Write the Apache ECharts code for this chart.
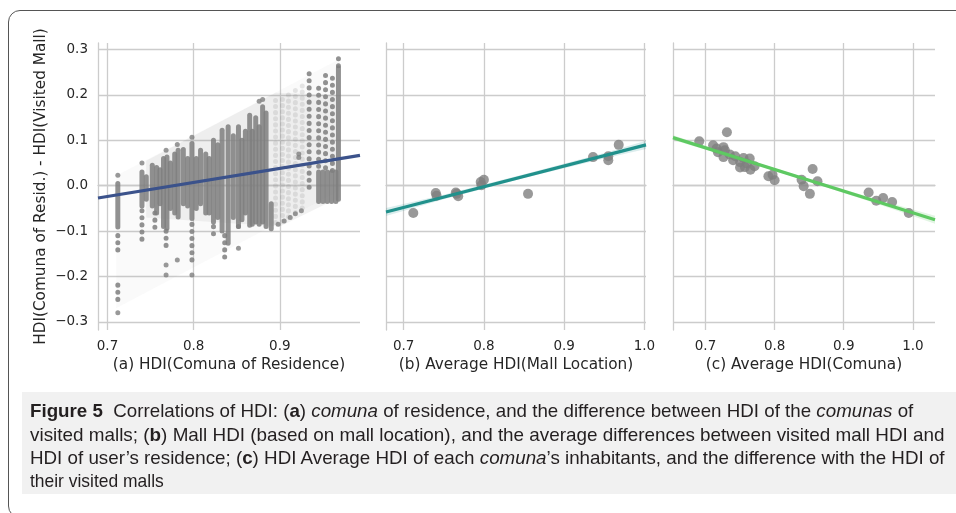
<!DOCTYPE html>
<html>
<head>
<meta charset="utf-8">
<script src="https://cdn.jsdelivr.net/npm/echarts@6.0.0/dist/echarts.min.js"></script>
<style>
  html, body { margin: 0; padding: 0; width: 956px; height: 513px; overflow: hidden; background: #fff; }
  #chart { position: absolute; left: 0; top: 0; width: 956px; height: 513px; }
  #frame { position: absolute; left: 8px; top: 10px; width: 1100px; height: 508px;
           border: 1.5px solid #555; border-radius: 12px; box-sizing: border-box; }
  #capbox { position: absolute; left: 22px; top: 392px; width: 940px; height: 102px; background: #f1f1f1; }
  .ln { position: absolute; left: 30px; white-space: nowrap; transform-origin: 0 50%;
        font-family: 'Liberation Sans Narrow', 'Liberation Sans', 'Noto Sans', sans-serif;
        font-size: 19px; color: #231f20; line-height: 22px; }
</style>
</head>
<body>
<div id="capbox"></div>
<div id="chart"></div>
<div id="frame"></div>
<div class="ln" data-w="883" style="top:400px"><b>Figure 5</b>&nbsp; Correlations of HDI: (<b>a</b>) <i>comuna</i> of residence, and the difference between HDI of the <i>comunas</i> of</div>
<div class="ln" data-w="915" style="top:424px">visited malls; (<b>b</b>) Mall HDI (based on mall location), and the average differences between visited mall HDI and</div>
<div class="ln" data-w="915" style="top:447px">HDI of user’s residence; (<b>c</b>) HDI Average HDI of each <i>comuna</i>’s inhabitants, and the difference with the HDI of</div>
<div class="ln" data-w="134" style="top:470px">their visited malls</div>
<script>
// (a) residence HDI vs. difference: faint cloud outline
const cloudX = [0.71, 0.97, 0.97, 0.71];
const cloudY = [0.022, 0.28, -0.01, -0.27];
const coreX = [0.745, 0.895, 0.97, 0.97, 0.90, 0.745];
const coreY = [0.055, 0.205, 0.20, -0.025, -0.09, -0.07];

// (a) dense columns of users per comuna HDI
const denseX      = [0.712, 0.740, 0.745, 0.752, 0.757, 0.761, 0.765, 0.769, 0.773, 0.778, 0.782, 0.788, 0.793, 0.798, 0.803, 0.808, 0.814, 0.818, 0.823, 0.828, 0.833, 0.840, 0.846, 0.852, 0.856, 0.860, 0.865, 0.868, 0.872, 0.876, 0.880, 0.884, 0.890, 0.945, 0.950, 0.955, 0.960, 0.965, 0.968];
const denseTop    = [0.005, 0.030, 0.020, 0.045, 0.040, 0.035, 0.060, 0.063, 0.050, 0.070, 0.078, 0.080, 0.060, 0.093, 0.060, 0.078, 0.070, 0.060, 0.100, 0.090, 0.122, 0.130, 0.110, 0.130, 0.100, 0.120, 0.155, 0.120, 0.150, 0.130, 0.174, 0.160, -0.040, 0.030, 0.030, 0.030, 0.030, 0.030, 0.260];
const denseBottom = [-0.091, -0.045, -0.030, -0.045, -0.060, -0.040, -0.090, -0.094, -0.050, -0.060, -0.069, -0.040, -0.045, -0.072, -0.050, -0.040, -0.060, -0.060, -0.080, -0.070, -0.100, -0.127, -0.070, -0.090, -0.075, -0.060, -0.087, -0.085, -0.080, -0.085, -0.080, -0.090, -0.095, -0.035, -0.035, -0.035, -0.035, -0.035, -0.030];

// (a) dotted columns
const sparseX      = [0.712, 0.712, 0.740, 0.755, 0.768, 0.798, 0.823, 0.836, 0.934, 0.945, 0.953, 0.961, 0.968];
const sparseTop    = [-0.110, -0.219, -0.055, -0.060, -0.100, -0.085, -0.090, -0.110, 0.247, 0.215, 0.243, 0.237, 0.280];
const sparseBottom = [-0.150, -0.256, -0.120, -0.105, -0.135, -0.175, -0.120, -0.160, -0.010, 0.030, 0.030, 0.030, 0.260];

// (a) faint columns between 0.89 and 0.93
const faintX      = [0.895, 0.903, 0.910, 0.918, 0.926];
const faintTop    = [0.188, 0.19, 0.20, 0.21, 0.22];
const faintBottom = [-0.09, -0.085, -0.075, -0.065, -0.055];

// (a) isolated dots
const dotX = [0.712, 0.712, 0.740, 0.768, 0.781, 0.798, 0.768, 0.768, 0.781, 0.798, 0.852, 0.880, 0.876, 0.922, 0.922, 0.852, 0.898, 0.905, 0.912, 0.918, 0.925];
const dotY = [0.023, -0.280, 0.050, 0.078, 0.091, 0.107, -0.175, -0.197, -0.164, -0.197, -0.138, 0.190, 0.186, 0.070, 0.062, -0.090, -0.085, -0.078, -0.070, -0.062, -0.055];

// (a) regression line
const fitAX = [0.689, 0.993];
const fitAY = [-0.027, 0.067];

// (b) mall location HDI vs. mean difference
const mallX = [0.712, 0.740, 0.741, 0.765, 0.768, 0.766, 0.796, 0.800, 0.797, 0.855, 0.936, 0.955, 0.955, 0.968];
const mallY = [-0.060, -0.016, -0.022, -0.015, -0.023, -0.018, 0.008, 0.013, 0.001, -0.018, 0.063, 0.065, 0.056, 0.090];
const fitBX = [0.678, 1.002];
const fitBY = [-0.058, 0.090];
const ciBX  = [0.678, 0.75, 0.85, 0.95, 1.002];
const ciBLo = [-0.067, -0.030, 0.017, 0.060, 0.081];
const ciBHi = [-0.049, -0.020, 0.025, 0.072, 0.099];

// (c) comuna average HDI vs. difference
const comunaX = [0.691, 0.711, 0.716, 0.726, 0.728, 0.731, 0.718, 0.726, 0.735, 0.743, 0.740, 0.750, 0.750, 0.755, 0.757, 0.764, 0.765, 0.771, 0.760, 0.791, 0.797, 0.800, 0.839, 0.842, 0.851, 0.855, 0.862, 0.936, 0.947, 0.957, 0.970, 0.994];
const comunaY = [0.098, 0.089, 0.082, 0.085, 0.078, 0.118, 0.074, 0.063, 0.069, 0.065, 0.056, 0.052, 0.040, 0.061, 0.041, 0.060, 0.035, 0.043, 0.049, 0.021, 0.024, 0.012, 0.013, -0.001, -0.018, 0.037, 0.010, -0.015, -0.033, -0.027, -0.036, -0.060];
const fitCX = [0.653, 1.032];
const fitCY = [0.106, -0.075];
const ciCX  = [0.653, 0.75, 0.85, 0.95, 1.032];
const ciCLo = [0.101, 0.0566, 0.0088, -0.041, -0.084];
const ciCHi = [0.111, 0.0626, 0.0148, -0.031, -0.066];

// axis ranges / ticks
const xRanges = [[0.689, 0.993], [0.678, 1.002], [0.653, 1.032]];
const yRange = [-0.318, 0.3145];
const xNames = ['(a) HDI(Comuna of Residence)', '(b) Average HDI(Mall Location)', '(c) Average HDI(Comuna)'];
const yName = 'HDI(Comuna of Resid.) - HDI(Visited Mall)';

const GRID = '#cccccc';
const TEXT = '#262626';
const FONT = 'DejaVu Sans';
const PT = '#7f7f7f';

const tickFmt = (v) => {
  const r = Math.round(v * 10) / 10;
  if (Math.abs(v - r) > 1e-6) return '';
  return (r < 0 ? '\u2212' : '') + Math.abs(r).toFixed(1);
};

const chart = echarts.init(document.getElementById('chart'), null, { renderer: 'canvas' });

const grids = [
  { left: 98, top: 43, width: 262, height: 287 },
  { left: 386, top: 43, width: 260, height: 287 },
  { left: 673, top: 43, width: 262, height: 287 }
];

const xAxes = xRanges.map((r, i) => ({
  type: 'value', gridIndex: i, min: r[0], max: r[1], splitNumber: 4,
  name: xNames[i], nameLocation: 'middle', nameGap: 28,
  nameTextStyle: { color: TEXT, fontSize: 15.3, fontFamily: FONT },
  axisLine: { show: true, lineStyle: { color: GRID, width: 1.3 } },
  axisTick: { show: false },
  axisLabel: { color: TEXT, fontSize: 13.5, fontFamily: FONT, margin: 9, formatter: tickFmt,
               showMinLabel: false, showMaxLabel: false },
  splitLine: { show: true, showMinLine: false, showMaxLine: false, lineStyle: { color: GRID, width: 1.3 } }
}));

const yAxes = [0, 1, 2].map(i => ({
  type: 'value', gridIndex: i, min: yRange[0], max: yRange[1], splitNumber: 6,
  name: i === 0 ? yName : '', nameLocation: 'middle', nameGap: 49,
  nameTextStyle: { color: TEXT, fontSize: 15.3, fontFamily: FONT },
  axisLine: { show: true, lineStyle: { color: GRID, width: 1.3 } },
  axisTick: { show: false },
  axisLabel: { show: i === 0, color: TEXT, fontSize: 13.5, fontFamily: FONT, margin: 10, formatter: tickFmt,
               showMinLabel: false, showMaxLabel: false },
  splitLine: { show: true, showMinLine: false, showMaxLine: false, lineStyle: { color: GRID, width: 1.3 } }
}));

function polygonSeries(ax, xs, ys, fill) {
  return {
    type: 'custom', xAxisIndex: ax, yAxisIndex: ax, clip: true, silent: true,
    data: [0],
    renderItem: (params, api) => ({
      type: 'polygon',
      shape: { points: xs.map((x, k) => api.coord([x, ys[k]])) },
      style: { fill: fill }
    })
  };
}

function bandSeries(ax, xs, lo, hi, fill) {
  return {
    type: 'custom', xAxisIndex: ax, yAxisIndex: ax, clip: true, silent: true,
    data: [0],
    renderItem: (params, api) => {
      const pts = xs.map((x, k) => api.coord([x, hi[k]]))
        .concat(xs.slice().reverse().map((x, k) => api.coord([x, lo[lo.length - 1 - k]])));
      return { type: 'polygon', shape: { points: pts }, style: { fill: fill } };
    }
  };
}

function columnSeries(xs, tops, bottoms, stroke, dash) {
  return {
    type: 'custom', xAxisIndex: 0, yAxisIndex: 0, clip: true, silent: true,
    data: xs.map((x, k) => [x, tops[k], bottoms[k]]),
    renderItem: (params, api) => {
      const a = api.coord([api.value(0), api.value(1)]);
      const b = api.coord([api.value(0), api.value(2)]);
      return {
        type: 'line',
        shape: { x1: a[0], y1: a[1], x2: b[0], y2: b[1] },
        style: { stroke: stroke, lineWidth: 5, lineCap: 'round', lineDash: dash || null }
      };
    }
  };
}

function fitLine(ax, xs, ys, color) {
  return {
    type: 'line', xAxisIndex: ax, yAxisIndex: ax, symbol: 'none', silent: true,
    data: xs.map((x, k) => [x, ys[k]]),
    lineStyle: { color: color, width: 3.2 }, z: 5
  };
}

const option = {
  backgroundColor: 'transparent',
  animation: false,
  grid: grids,
  xAxis: xAxes,
  yAxis: yAxes,
  series: [
    polygonSeries(0, cloudX, cloudY, 'rgba(128,128,128,0.045)'),
    polygonSeries(0, coreX, coreY, 'rgba(128,128,128,0.10)'),
    columnSeries(faintX, faintTop, faintBottom, 'rgba(128,128,128,0.18)', [0.1, 6]),
    columnSeries(denseX, denseTop, denseBottom, 'rgba(127,127,127,0.85)'),
    columnSeries(sparseX, sparseTop, sparseBottom, 'rgba(127,127,127,0.85)', [0.1, 7]),
    {
      type: 'scatter', xAxisIndex: 0, yAxisIndex: 0, symbolSize: 5, silent: true,
      itemStyle: { color: PT },
      data: dotX.map((x, k) => [x, dotY[k]])
    },
    fitLine(0, fitAX, fitAY, '#3b528b'),

    bandSeries(1, ciBX, ciBLo, ciBHi, 'rgba(33,145,140,0.16)'),
    {
      type: 'scatter', xAxisIndex: 1, yAxisIndex: 1, symbolSize: 10, silent: true,
      itemStyle: { color: PT },
      data: mallX.map((x, k) => [x, mallY[k]])
    },
    fitLine(1, fitBX, fitBY, '#21918c'),

    bandSeries(2, ciCX, ciCLo, ciCHi, 'rgba(94,201,98,0.18)'),
    {
      type: 'scatter', xAxisIndex: 2, yAxisIndex: 2, symbolSize: 10, silent: true,
      itemStyle: { color: PT },
      data: comunaX.map((x, k) => [x, comunaY[k]])
    },
    fitLine(2, fitCX, fitCY, '#5ec962')
  ]
};

chart.setOption(option);

// squeeze caption lines to the widths of the printed figure
document.querySelectorAll('.ln').forEach(el => {
  const w = el.scrollWidth;
  const target = +el.dataset.w;
  if (w > 0) el.style.transform = 'scaleX(' + (target / w) + ')';
});
</script>
</body>
</html>
